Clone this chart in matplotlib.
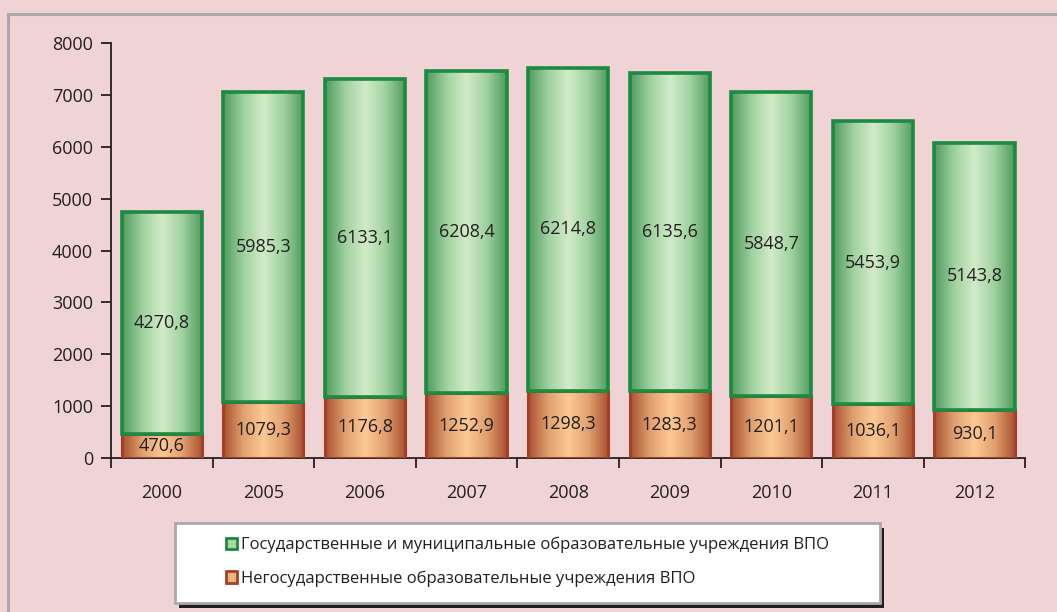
import matplotlib.pyplot as plt
import numpy as np
from matplotlib.colors import LinearSegmentedColormap
from matplotlib.patches import Rectangle
from matplotlib.lines import Line2D

years = ['2000', '2005', '2006', '2007', '2008', '2009', '2010', '2011', '2012']
private = [470.6, 1079.3, 1176.8, 1252.9, 1298.3, 1283.3, 1201.1, 1036.1, 930.1]
state = [4270.8, 5985.3, 6133.1, 6208.4, 6214.8, 6135.6, 5848.7, 5453.9, 5143.8]
labels = ['Государственные и муниципальные образовательные учреждения ВПО',
          'Негосударственные образовательные учреждения ВПО']

plt.rcParams['font.family'] = ['Open Sans', 'DejaVu Sans']
bg = '#f0d3d5'
txt = '#231f20'

fig = plt.figure(figsize=(10.57, 6.12), dpi=100, facecolor=bg)
ax = fig.add_axes([0.105, 0.2516, 0.865, 0.6781])
ax.set_facecolor(bg)

green_cmap = LinearSegmentedColormap.from_list('g', ['#4f9a5c', '#9fd19f', '#d2ebc9', '#9fd19f', '#4f9a5c'])
orange_cmap = LinearSegmentedColormap.from_list('o', ['#a9502f', '#e0a070', '#fdc994', '#e0a070', '#a9502f'])
grad = np.linspace(0, 1, 256).reshape(1, -1)

x = np.arange(len(years))
w = 0.79
bars_p = ax.bar(x, private, w, facecolor='none', edgecolor='#a3402a', linewidth=2.2, zorder=3)
bars_s = ax.bar(x, state, w, bottom=private, facecolor='none', edgecolor='#1b8a42', linewidth=2.6, zorder=3)

for bars, cmap in [(bars_p, orange_cmap), (bars_s, green_cmap)]:
    for b in bars:
        x0, y0 = b.get_x(), b.get_y()
        im = ax.imshow(grad, cmap=cmap, aspect='auto', zorder=2,
                       extent=(x0, x0 + b.get_width(), y0, y0 + b.get_height()))
        im.set_clip_path(b)

for i in range(len(years)):
    ax.text(x[i], private[i] / 2, f'{private[i]:.1f}'.replace('.', ','),
            ha='center', va='center', fontsize=13, color=txt, zorder=4)
    ax.text(x[i], private[i] + state[i] / 2, f'{state[i]:.1f}'.replace('.', ','),
            ha='center', va='center', fontsize=13, color=txt, zorder=4)

ax.set_xlim(-0.5, len(years) - 0.5)
ax.set_ylim(0, 8000)
ax.set_yticks(np.arange(0, 8001, 1000))
ax.tick_params(axis='y', labelsize=13, labelcolor=txt, color=txt, length=7, width=1.3, pad=6)
ax.set_xticks(np.arange(-0.5, len(years), 1.0))
ax.set_xticklabels([])
ax.set_xticks(x, minor=True)
ax.set_xticklabels(years, minor=True)
ax.tick_params(axis='x', which='major', length=7, width=1.3, color=txt)
ax.tick_params(axis='x', which='minor', length=0, labelsize=13, labelcolor=txt, pad=19)
for s in ['top', 'right']:
    ax.spines[s].set_visible(False)
for s in ['left', 'bottom']:
    ax.spines[s].set_color(txt)
    ax.spines[s].set_linewidth(1.3)

# outer grey frame
fig.add_artist(Line2D([8 / 1057, 8 / 1057], [0, 1 - 14 / 612], color='#a9a9ab', lw=2.2))
fig.add_artist(Line2D([8 / 1057, 1], [1 - 14 / 612, 1 - 14 / 612], color='#a9a9ab', lw=2.2))

# legend box with shadow
bx0, by0, bw, bh = 175 / 1057, 1 - 603 / 612, 705 / 1057, 80 / 612
fig.add_artist(Rectangle((bx0 + 4 / 1057, by0 - 5 / 612), bw, bh, transform=fig.transFigure,
                         facecolor='#231f20', edgecolor='none', zorder=5))
fig.add_artist(Rectangle((bx0, by0), bw, bh, transform=fig.transFigure,
                         facecolor='white', edgecolor='#a9a9ab', lw=2, zorder=6))

handles = [Rectangle((0, 0), 1, 1, facecolor='#a9d8a6', edgecolor='#1b8a42', lw=2),
           Rectangle((0, 0), 1, 1, facecolor='#f0b27f', edgecolor='#a3402a', lw=2)]
leg = fig.legend(handles, labels, loc='center', bbox_to_anchor=(bx0 + bw / 2, by0 + bh / 2 + 0.002),
                 frameon=False, fontsize=12, handlelength=0.65, handleheight=0.65,
                 handletextpad=0.25, labelspacing=1.05)
for t in leg.get_texts():
    t.set_color(txt)
leg.set_zorder(7)

fig.savefig('out.png', dpi=100, facecolor=bg)
